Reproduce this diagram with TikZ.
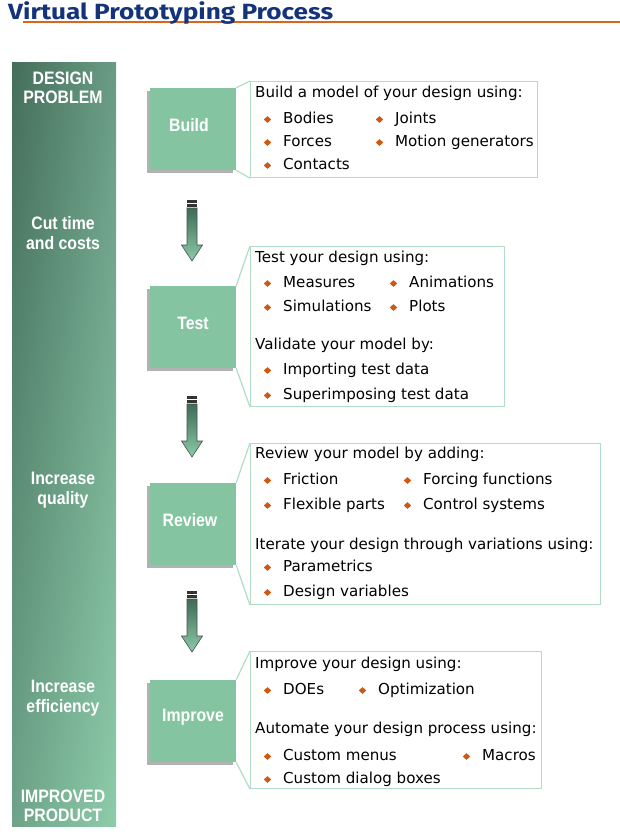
\documentclass[tikz,border=0pt]{standalone}
\usepackage{fontspec}
\setmainfont{DejaVu Sans}
\newfontfamily\labelfont[FakeStretch=0.88]{Liberation Sans}
\newfontfamily\titlefont[FakeStretch=1.19]{Fira Sans}
\usetikzlibrary{shapes.geometric,shadows,shadings}
\definecolor{procgreen}{HTML}{84C4A0}
\definecolor{calloutline}{HTML}{B2DCC6}
\definecolor{bulletorange}{HTML}{CC5A12}
\definecolor{titleblue}{HTML}{14337A}
\definecolor{ruleorange}{HTML}{D9661F}
\definecolor{sideul}{HTML}{446E5B}
\definecolor{sideur}{HTML}{6A9C85}
\definecolor{sidell}{HTML}{6DA388}
\definecolor{sidelr}{HTML}{8DCCAA}
\definecolor{arrowtop}{HTML}{3F6B55}
\definecolor{arrowbot}{HTML}{8ACBA8}
\tikzset{
  procbox/.style={rectangle,fill=procgreen,minimum width=86pt,minimum height=82pt,inner sep=0pt,
    general shadow={fill=black!30,shadow xshift=-3pt,shadow yshift=-3pt}},
  boxlabel/.style={text=white,font=\labelfont\bfseries\fontsize{18}{20}\selectfont,yshift=4pt},
  sidetext/.style={text=white,align=center,font=\labelfont\bfseries\fontsize{18}{19.5}\selectfont},
  callout/.style={rectangle,draw=calloutline,line width=1.2pt,fill=white,anchor=north west,inner sep=0pt},
  calloutlink/.style={draw=calloutline,line width=1.2pt},
  infotext/.style={anchor=base west,inner sep=0pt,font=\fontsize{15.1}{17}\selectfont},
  bullet/.style={diamond,fill=bulletorange,inner sep=0pt,minimum width=7.5pt,minimum height=7pt},
}
\begin{document}
\begin{tikzpicture}[x=1pt,y=-1pt]
 \useasboundingbox (0,0) rectangle (620,839);
 % title and rule
 \draw [ruleorange,line width=1.3pt] (23,22) -- (620,22);
 \node [anchor=base west,inner sep=0pt,text=titleblue,font=\titlefont\bfseries\fontsize{22}{24}\selectfont] (title) at (8,19.5) {Virtual Prototyping Process};
 % left bar
 \shade [upper left=sideul,upper right=sideur,lower left=sidell,lower right=sidelr] (12,62) rectangle (116,826);
 \node [sidetext] (design) at (63,88) {DESIGN\\PROBLEM};
 \node [sidetext] (cuttime) at (63,233) {Cut time\\and costs};
 \node [sidetext] (quality) at (63,490) {Increase\\quality};
 \node [sidetext] (efficiency) at (63,698) {Increase\\efficiency};
 \node [sidetext] (improved) at (63,806) {IMPROVED\\PRODUCT};
 % process boxes
 \node [procbox,label={[boxlabel,xshift=-4pt]center:Build}] (build) at (193,129) {};
 \node [procbox,label={[boxlabel]center:Test}] (test) at (193,327) {};
 \node [procbox,label={[boxlabel,xshift=-3pt]center:Review}] (review) at (193,524) {};
 \node [procbox,label={[boxlabel]center:Improve}] (improve) at (193,721) {};
 % block arrows
 \foreach \y in {200,396,591} {
  \fill [black!80] (187,\y) rectangle (197,\y+2.5);
  \fill [black!80] (187,\y+4) rectangle (197,\y+6.5);
  \shade [top color=arrowtop,bottom color=arrowbot,draw=black!70,line width=0.6pt]
   (187,\y+8) -- (197,\y+8) -- (197,\y+45) -- (202.5,\y+45) -- (192,\y+61) -- (181.5,\y+45) -- (187,\y+45) -- cycle;
 }
 % callouts
 \node [callout,minimum width=287pt,minimum height=96pt] (buildinfo) at (250,81) {};
 \node [callout,minimum width=254pt,minimum height=160pt] (testinfo) at (250,246) {};
 \node [callout,minimum width=350pt,minimum height=161pt] (reviewinfo) at (250,443) {};
 \node [callout,minimum width=291pt,minimum height=137pt] (improveinfo) at (250,651) {};
 \foreach \a/\b in {build/buildinfo,test/testinfo,review/reviewinfo,improve/improveinfo} {
  \draw [calloutlink] (\a.north east) -- (\b.north west);
  \draw [calloutlink] (\a.south east) -- (\b.south west);
 }
 % headings
 \foreach \y/\t [count=\i] in {97/Build a model of your design using:,
   262/Test your design using:,349/Validate your model by:,
   458/Review your model by adding:,549/Iterate your design through variations using:,
   668/Improve your design using:,733/Automate your design process using:}
  \node [infotext] (head\i) at (255,\y) {\t};
 % bullet items
 \foreach \x/\y/\t [count=\i] in {283/123/Bodies,395/123/Joints,283/146/Forces,395/146/Motion generators,283/169/Contacts,
   283/287/Measures,409/287/Animations,283/311/Simulations,409/311/Plots,
   283/374/Importing test data,283/399/Superimposing test data,
   283/484/Friction,423/484/Forcing functions,283/509/Flexible parts,423/509/Control systems,
   283/571/Parametrics,283/596/Design variables,
   283/694/DOEs,378/694/Optimization,283/760/Custom menus,482/760/Macros,283/783/Custom dialog boxes} {
  \node [bullet] (dot\i) at (\x-15.5,\y-3.5) {};
  \node [infotext] (item\i) at (\x,\y) {\t};
 }
\end{tikzpicture}
\end{document}
